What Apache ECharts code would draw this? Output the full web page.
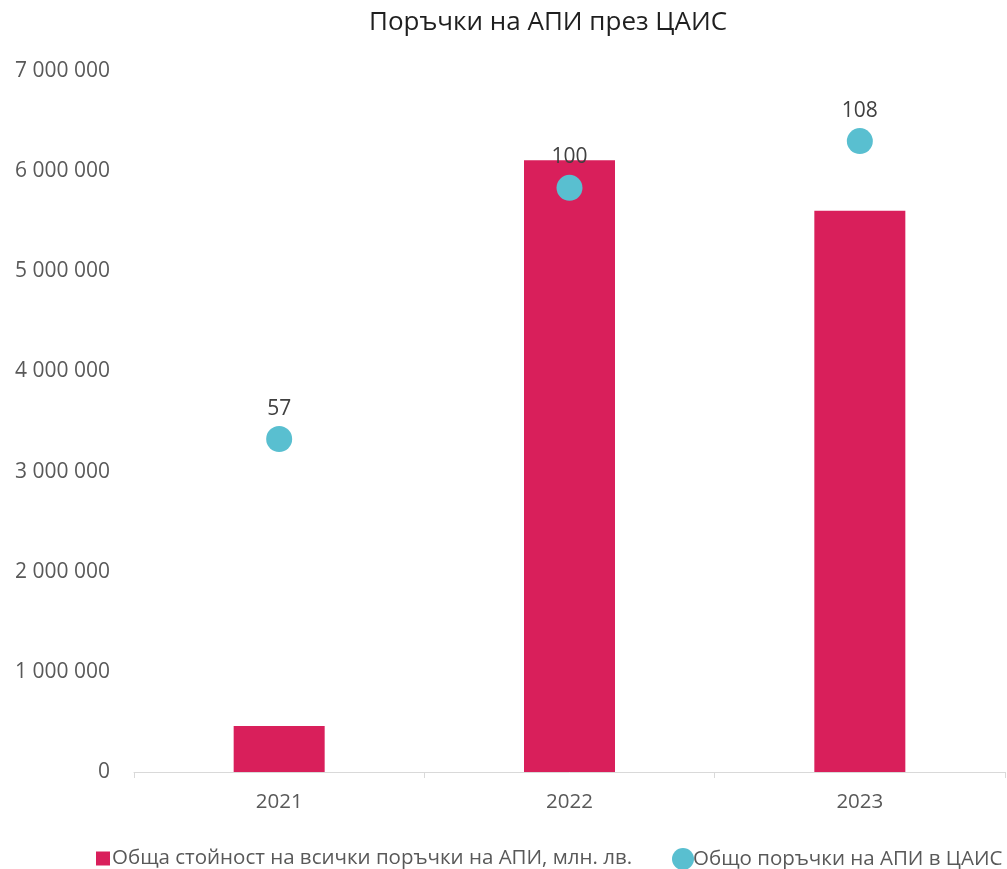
<!DOCTYPE html>
<html>
<head>
<meta charset="utf-8">
<script src="https://cdn.jsdelivr.net/npm/echarts@6/dist/echarts.min.js"></script>
<style>
  html, body { margin: 0; padding: 0; background: #fff; }
  #chart { width: 1007px; height: 869px; }
</style>
</head>
<body>
<div id="chart"></div>
<script>
var years = ['2021', '2022', '2023'];
var totalValue = [460000, 6110000, 5605000];
var orderCount = [57, 100, 108];
var barName = 'Обща стойност на всички поръчки на АПИ, млн. лв.';
var dotName = 'Общо поръчки на АПИ в ЦАИС';

var font = '"Open Sans", "Noto Sans", sans-serif';
var mychart = echarts.init(document.getElementById('chart'));

var option = {
    textStyle: { fontFamily: font },
    title: {
        text: 'Поръчки на АПИ през ЦАИС',
        left: 364,
        top: 5,
        textStyle: { fontFamily: font, fontSize: 26, fontWeight: 'normal', color: '#1f1f1f' }
    },
    grid: { left: 134, right: 2, top: 71, bottom: 97 },
    legend: [
        {
            data: [barName],
            left: 91, top: 843,
            itemWidth: 14, itemHeight: 14, itemGap: 4,
            icon: 'rect',
            textStyle: { fontFamily: font, fontSize: 20.5, color: '#595959', padding: [0, 0, 0, -3] }
        },
        {
            data: [dotName],
            left: 667, top: 843,
            itemWidth: 22, itemHeight: 22,
            icon: 'circle',
            textStyle: { fontFamily: font, fontSize: 20.5, color: '#595959', padding: [0, 0, 0, -6] }
        }
    ],
    xAxis: {
        type: 'category',
        data: years,
        axisLine: { lineStyle: { color: '#d9d9d9', width: 1 } },
        axisTick: { show: true, length: 6, lineStyle: { color: '#d9d9d9' } },
        axisLabel: { fontSize: 20.5, color: '#595959', margin: 20 }
    },
    yAxis: [
        {
            type: 'value',
            min: 0, max: 7000000, interval: 1000000,
            axisLine: { show: false },
            axisTick: { show: false },
            splitLine: { show: false },
            axisLabel: {
                fontSize: 21, color: '#595959', margin: 24,
                formatter: function (v) {
                    return String(v).replace(/\B(?=(\d{3})+(?!\d))/g, ' ');
                }
            }
        },
        {
            type: 'value',
            min: 0, max: 120,
            show: false,
            splitLine: { show: false }
        }
    ],
    series: [
        {
            name: barName,
            type: 'bar',
            data: totalValue,
            barWidth: 91,
            itemStyle: { color: '#d91f5b' }
        },
        {
            name: dotName,
            type: 'scatter',
            yAxisIndex: 1,
            data: orderCount,
            symbolSize: 26,
            itemStyle: { color: '#59bfd0', opacity: 1 },
            label: {
                show: true,
                position: 'top',
                distance: 7,
                fontSize: 21,
                color: '#404040'
            }
        }
    ]
};
mychart.setOption(option);
</script>
</body>
</html>
